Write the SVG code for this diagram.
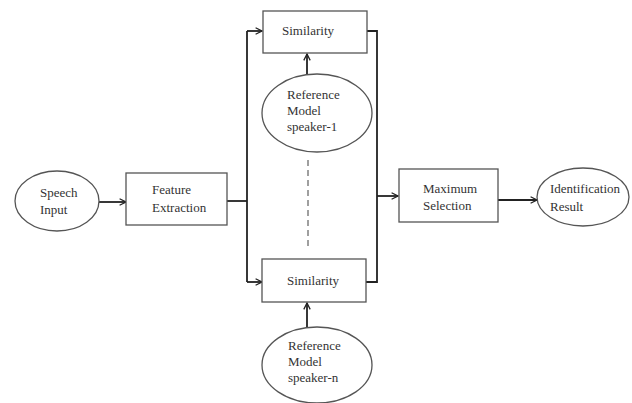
<svg xmlns="http://www.w3.org/2000/svg" width="632" height="403" viewBox="0 0 632 403">
  <defs>
    <marker id="arr" viewBox="0 0 10 10" refX="9" refY="5" markerWidth="8" markerHeight="8" markerUnits="userSpaceOnUse" orient="auto">
      <polyline points="1,1 9,5 1,9" fill="none" stroke="#222" stroke-width="1.6"/>
    </marker>
  </defs>
  <style>
    .box { fill: #fff; stroke: #555; stroke-width: 1.3; }
    .ell { fill: #fff; stroke: #555; stroke-width: 1.3; }
    text { font-family: 'Liberation Serif', 'DejaVu Serif', serif; font-size: 13px; fill: #333; }
    .wire { fill: none; stroke: #222; stroke-width: 1.8; }
    .dash { fill: none; stroke: #888; stroke-width: 1.6; stroke-dasharray: 6 4; }
  </style>
  <rect width="632" height="403" fill="#fff"/>

  <g id="connectors">
    <line class="wire" x1="99" y1="202" x2="126" y2="202" marker-end="url(#arr)"/>
    <line class="wire" x1="227" y1="201" x2="247" y2="201"/>
    <path class="wire" d="M247,31 V282"/>
    <line class="wire" x1="247" y1="31" x2="262" y2="31" marker-end="url(#arr)"/>
    <line class="wire" x1="247" y1="282" x2="262" y2="282" marker-end="url(#arr)"/>
    <path class="wire" d="M367,31 H377 V282 H366"/>
    <line class="wire" x1="377" y1="196" x2="398" y2="196" marker-end="url(#arr)"/>
    <line class="wire" x1="498" y1="200" x2="537" y2="200" marker-end="url(#arr)"/>
    <line class="wire" x1="307" y1="74" x2="307" y2="54" marker-end="url(#arr)"/>
    <line class="wire" x1="307" y1="327" x2="307" y2="303" marker-end="url(#arr)"/>
    <line class="dash" x1="308" y1="160" x2="308" y2="248"/>
  </g>

  <g id="speech-input">
    <ellipse class="ell" cx="57" cy="201" rx="42" ry="30"/>
    <text x="40" y="197" font-family="Liberation Serif, serif">Speech</text>
    <text x="40" y="214" font-family="Liberation Serif, serif">Input</text>
  </g>

  <g id="feature-extraction">
    <rect class="box" x="126" y="173" width="101" height="52"/>
    <text x="152" y="194">Feature</text>
    <text x="152" y="212">Extraction</text>
  </g>

  <g id="similarity-1">
    <rect class="box" x="263" y="11" width="104" height="42"/>
    <text x="282" y="35">Similarity</text>
  </g>

  <g id="reference-model-1">
    <ellipse class="ell" cx="317" cy="113" rx="55" ry="39"/>
    <text x="287" y="99">Reference</text>
    <text x="287" y="115">Model</text>
    <text x="287" y="131">speaker-1</text>
  </g>

  <g id="similarity-n">
    <rect class="box" x="262" y="259" width="104" height="43"/>
    <text x="287" y="285">Similarity</text>
  </g>

  <g id="reference-model-n">
    <ellipse class="ell" cx="317" cy="365" rx="55" ry="38"/>
    <text x="288" y="350">Reference</text>
    <text x="288" y="366">Model</text>
    <text x="288" y="382">speaker-n</text>
  </g>

  <g id="maximum-selection">
    <rect class="box" x="399" y="169" width="99" height="53"/>
    <text x="423" y="193">Maximum</text>
    <text x="423" y="210">Selection</text>
  </g>

  <g id="identification-result">
    <ellipse class="ell" cx="583" cy="197" rx="46" ry="29"/>
    <text x="550" y="193">Identification</text>
    <text x="550" y="211">Result</text>
  </g>
</svg>
